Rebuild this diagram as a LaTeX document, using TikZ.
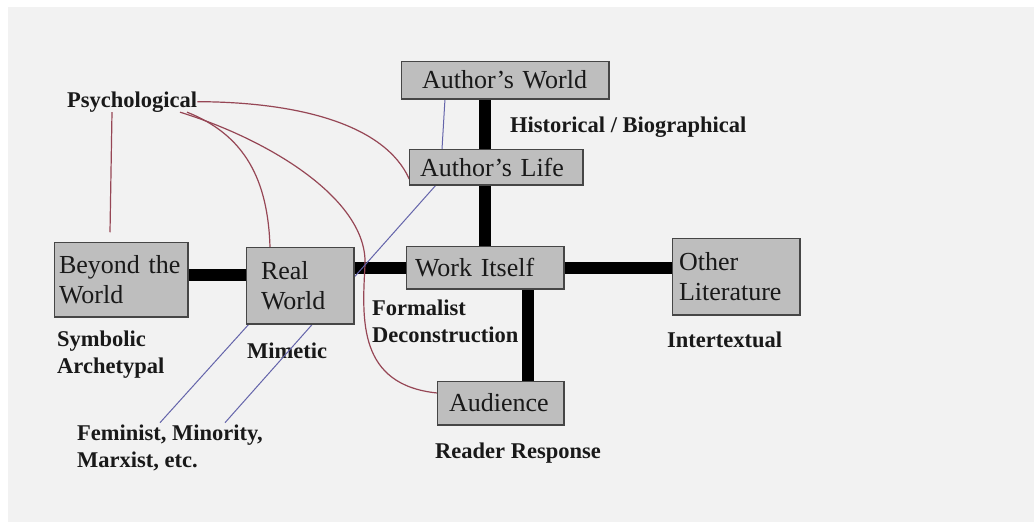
\documentclass[tikz,border=0pt]{standalone}
\usepackage{fontspec}
\setmainfont{Liberation Serif}
\definecolor{bggray}{RGB}{242,242,242}
\definecolor{boxfill}{RGB}{190,190,190}
\definecolor{boxline}{RGB}{70,70,70}
\definecolor{psyred}{RGB}{150,70,85}
\definecolor{linkblue}{RGB}{100,100,170}
\definecolor{ink}{RGB}{25,25,25}
\tikzset{
  boxnode/.style={draw=boxline, line width=1.5pt, fill=boxfill, text=ink,
    font=\fontsize{26}{30}\selectfont, align=left, inner ysep=0pt},
  boxtext/.style={boxnode, draw=none, fill=none},
  lbl/.style={text=ink, font=\bfseries\fontsize{22.5}{26.5}\selectfont,
    align=left, inner sep=0pt, anchor=base west},
  bar/.style={line width=12pt, black},
  psyline/.style={psyred, line width=1.2pt},
  blueline/.style={linkblue, line width=1pt},
}
\begin{document}
\begin{tikzpicture}[x=1pt,y=-1pt]
\useasboundingbox (0,0) rectangle (1034,522);
\fill[white] (0,0) rectangle (1034,522);
\fill[bggray] (8,7) rectangle (1034,522);

% boxes
\node[boxnode, minimum height=36pt, inner xsep=20pt, text width=166pt] (aw) at (505,80) {Author’s World};
\node[boxnode, minimum height=34pt, inner xsep=10pt, text width=152pt] (al) at (496,167) {Author’s Life};
\node[boxnode, minimum height=73pt, inner xsep=4pt, text width=124pt] (bw) at (121,279.5) {Beyond the\\World};
\node[boxnode, minimum height=75pt, inner xsep=14pt, text width=78pt] (rw) at (300,285.5) {Real\\World};
\node[boxnode, minimum height=41pt, inner xsep=8pt, text width=140pt] (wi) at (485,267.5) {Work Itself};
\node[boxnode, minimum height=75pt, inner xsep=6pt, text width=114pt] (ol) at (736,276.5) {Other\\Literature};
\node[boxnode, minimum height=42pt, inner xsep=11pt, text width=103pt] (au) at (500.5,403) {Audience};

% labels (multi-line ones are placed by their last baseline)
\node[lbl] (psy) at (67,107) {Psychological};
\node[lbl] (hist) at (510,132) {Historical / Biographical};
\node[lbl] (sym) at (57,373) {Symbolic\\Archetypal};
\node[lbl] (mim) at (247,358) {Mimetic};
\node[lbl] (form) at (372,342) {Formalist\\Deconstruction};
\node[lbl] (inter) at (667,347) {Intertextual};
\node[lbl] (fem) at (77,467) {Feminist, Minority,\\Marxist, etc.};
\node[lbl] (rr) at (435,458) {Reader Response};

% thick connectors
\draw[bar] (aw.south -| wi.north) -- (wi.north);
\draw[bar] ([yshift=4.5pt]bw.east) -- ([yshift=4.5pt]bw.east -| rw.west);
\draw[bar] (wi.west -| rw.east) -- (wi.west);
\draw[bar] (wi.east) -- (wi.east -| ol.west);
\draw[bar] ([xshift=43pt]wi.south) -- ([xshift=43pt]wi.south |- au.north);

% psychological curves
\draw[psyline] ([xshift=45pt]psy.south west) -- ([xshift=-11pt,yshift=10pt]bw.north);
\draw[psyline] (psy.east) .. controls (300,102) and (385,125) .. ([yshift=-12pt]al.west);
\draw[psyline] ([xshift=120pt]psy.south west) .. controls (245,135) and (268,180) .. ([xshift=-30pt]rw.north);
\draw[psyline] ([xshift=113pt]psy.south west) .. controls (270,140) and (368,200) .. (365,265)
  .. controls (362,320) and (358,385) .. ([yshift=10pt]au.west);

% blue links
\draw[blueline] ([xshift=-60pt]aw.south) -- ([xshift=-54pt]al.north);
\draw[blueline] ([xshift=27pt]al.south west) -- ([xshift=55pt,yshift=2pt]fem.north);
\draw[blueline] ([xshift=3pt]rw.south west) -- ([xshift=-10pt,yshift=2pt]fem.north);

% boxes redrawn above the connectors
\foreach \n in {aw,al,bw,rw,wi,ol,au} {
  \draw[draw=boxline, line width=1.5pt, fill=boxfill] (\n.south west) rectangle (\n.north east);
}
\node[boxtext, minimum height=36pt, inner xsep=20pt, text width=166pt] at (aw) {Author’s World};
\node[boxtext, minimum height=34pt, inner xsep=10pt, text width=152pt] at (al) {Author’s Life};
\node[boxtext, minimum height=73pt, inner xsep=4pt, text width=124pt] at (bw) {Beyond the\\World};
\node[boxtext, minimum height=75pt, inner xsep=14pt, text width=78pt] at (rw) {Real\\World};
\node[boxtext, minimum height=41pt, inner xsep=8pt, text width=140pt] at (wi) {Work Itself};
\node[boxtext, minimum height=75pt, inner xsep=6pt, text width=114pt] at (ol) {Other\\Literature};
\node[boxtext, minimum height=42pt, inner xsep=11pt, text width=103pt] at (au) {Audience};
\end{tikzpicture}
\end{document}
